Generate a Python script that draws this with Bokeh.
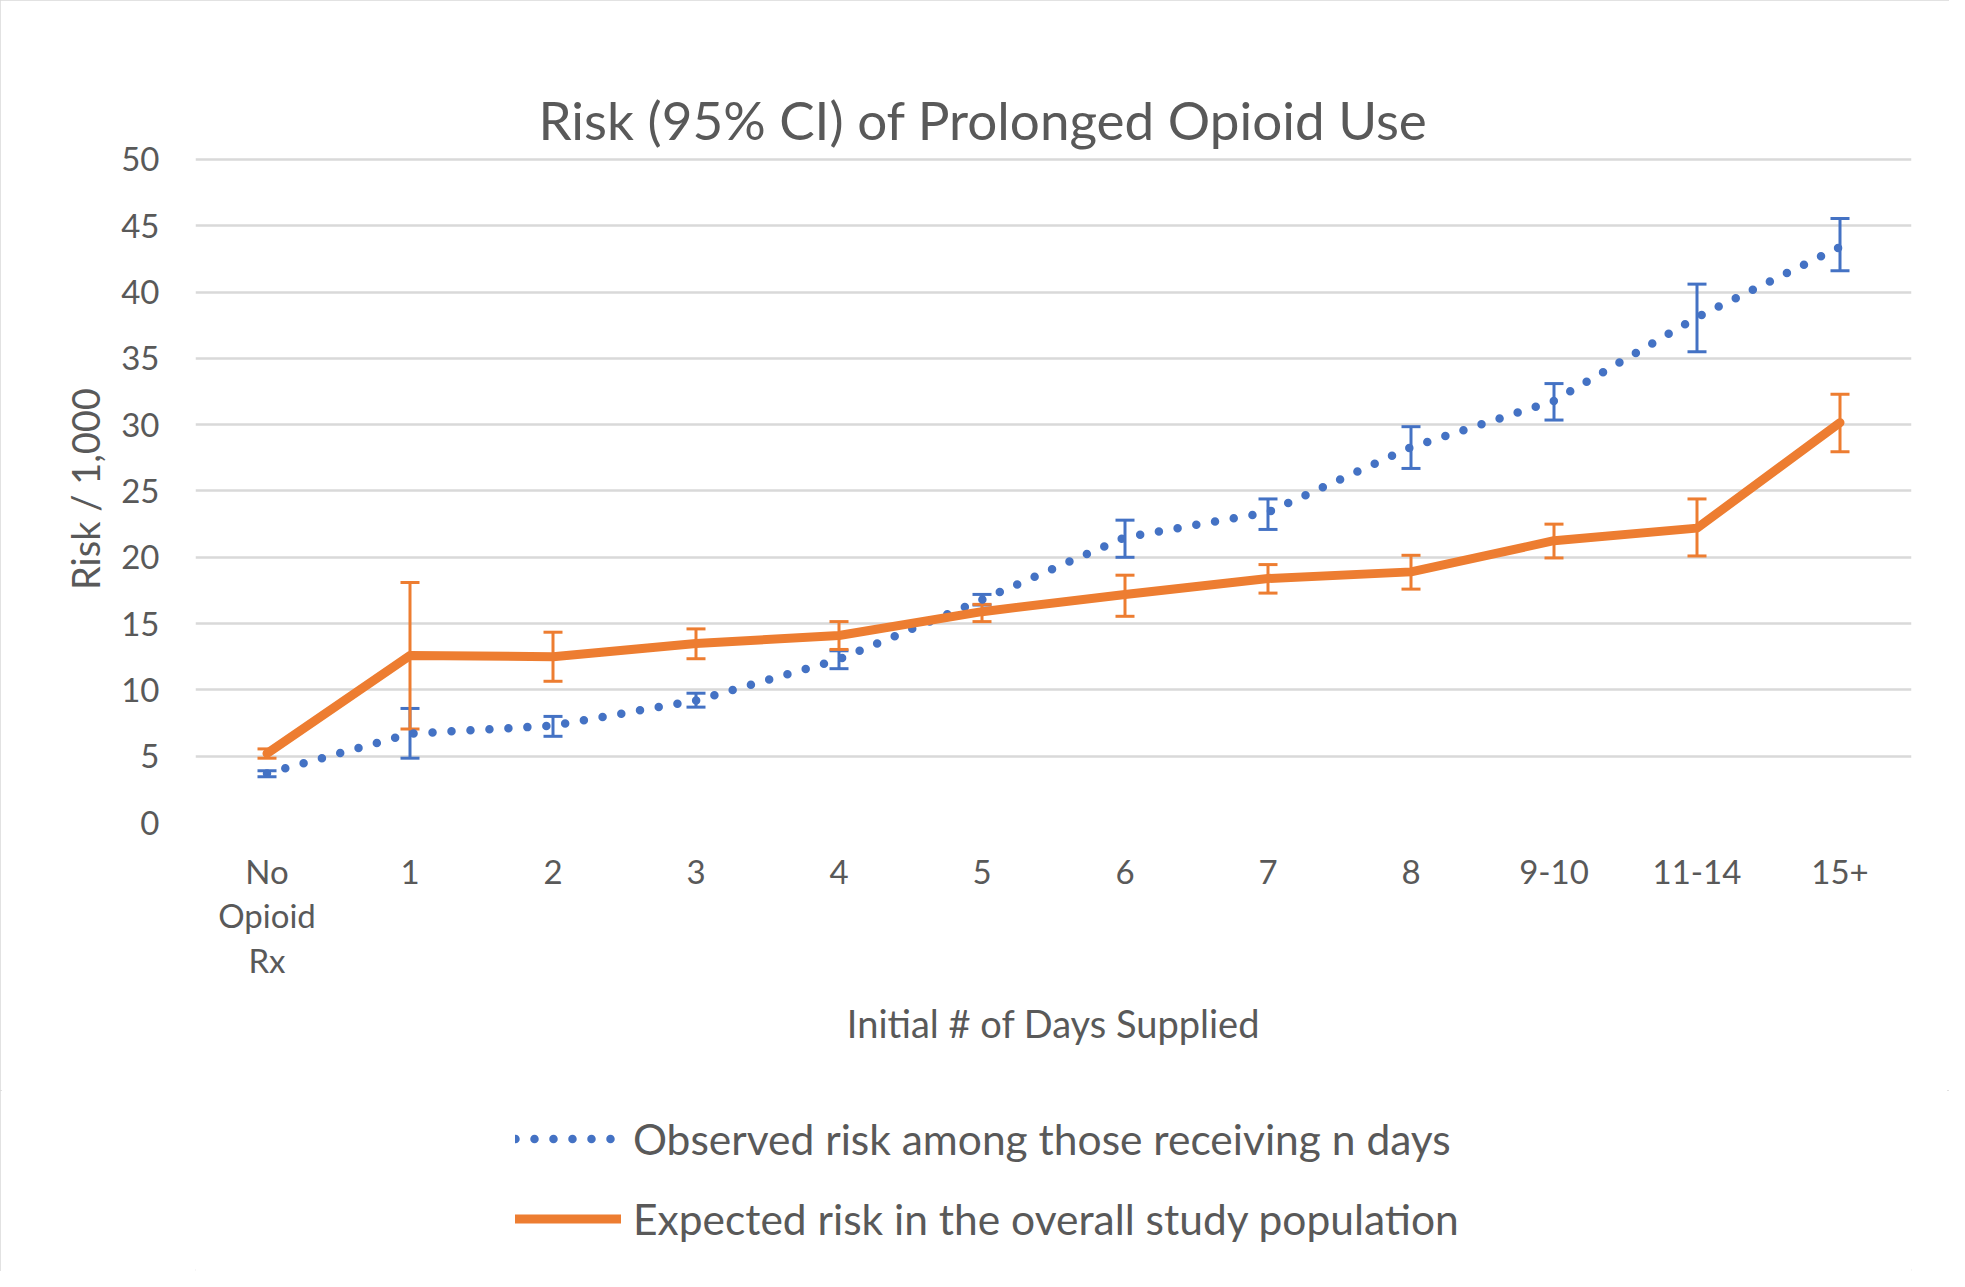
from bokeh.plotting import figure
from bokeh.models import (ColumnDataSource, FactorRange, Range1d, FixedTicker, Whisker,
                          TeeHead, Legend, LegendItem, Title, LinearAxis)
from bokeh.layouts import column
from bokeh.embed import file_html
from bokeh.resources import INLINE

# ---- data ----
categories = ["No\nOpioid\nRx", "1", "2", "3", "4", "5", "6", "7", "8", "9-10", "11-14", "15+"]
observed = [3.7, 6.7, 7.3, 9.2, 12.3, 16.8, 21.5, 23.4, 28.3, 31.8, 38.1, 43.4]
observed_lo = [3.45, 4.85, 6.5, 8.7, 11.6, 16.4, 20.0, 22.1, 26.7, 30.35, 35.5, 41.6]
observed_hi = [3.9, 8.6, 8.0, 9.75, 12.95, 17.2, 22.8, 24.4, 29.85, 33.1, 40.6, 45.55]
expected = [5.2, 12.6, 12.5, 13.5, 14.1, 15.9, 17.2, 18.4, 18.9, 21.25, 22.2, 30.15]
expected_lo = [4.85, 7.05, 10.65, 12.35, 13.05, 15.15, 15.55, 17.3, 17.6, 19.95, 20.1, 27.95]
expected_hi = [5.55, 18.1, 14.35, 14.6, 15.15, 16.45, 18.65, 19.45, 20.15, 22.5, 24.4, 32.3]
y_ticks = [0, 5, 10, 15, 20, 25, 30, 35, 40, 45, 50]

title_text = "Risk (95% CI) of Prolonged Opioid Use"
x_title = "Initial # of Days Supplied"
y_title = "Risk / 1,000"
obs_label = "Observed risk among those receiving n days"
exp_label = "Expected risk in the overall study population"

BLUE = "#4472C4"
ORANGE = "#ED7D31"
TEXT = "#595959"
GRID = "#D9D9D9"
FONT = "Lato"

src = ColumnDataSource(dict(cat=categories, obs=observed, obs_lo=observed_lo, obs_hi=observed_hi,
                            exp=expected, exp_lo=expected_lo, exp_hi=expected_hi))

W = 1949
H_MAIN = 1090
H_LEG = 181

p = figure(x_range=FactorRange(*categories), y_range=Range1d(0, 50.3), title=None,
           width=W, height=H_MAIN, output_backend="svg", toolbar_location=None,
           min_border_left=195, min_border_right=38, min_border_top=155, min_border_bottom=268)
p.x_range.range_padding = 0
p.x_range.factor_padding = 0
p.outline_line_color = None
p.background_fill_color = "white"
p.border_fill_color = "white"

x_axis = p.below[0]
y_axis = p.left[0]

# blank axis (no ticks, no labels) used only as a spacer between the frame and the title
spacer = LinearAxis(ticker=FixedTicker(ticks=[]), axis_line_color=None,
                    major_tick_line_color="white", minor_tick_line_color=None,
                    major_tick_in=0, major_tick_out=47, minor_tick_in=0, minor_tick_out=0,
                    major_label_standoff=0)
p.add_layout(spacer, "above")
p.add_layout(Title(text=title_text, text_font=FONT, text_font_size="53px",
                   text_font_style="normal", text_color=TEXT, align="left",
                   offset=343, standoff=10, vertical_align="bottom"), "above")

p.xgrid.grid_line_color = None
p.ygrid.grid_line_color = GRID
p.ygrid.grid_line_width = 2.5
y_axis.ticker = FixedTicker(ticks=y_ticks)

for ax in (x_axis, y_axis):
    ax.axis_line_color = None
    ax.major_tick_line_color = None
    ax.minor_tick_line_color = None
    ax.major_label_text_font = FONT
    ax.major_label_text_font_size = "33px"
    ax.major_label_text_color = TEXT
    ax.axis_label_text_font = FONT
    ax.axis_label_text_font_size = "38px"
    ax.axis_label_text_font_style = "normal"
    ax.axis_label_text_color = TEXT
y_axis.major_label_standoff = 30
x_axis.major_label_standoff = 22
x_axis.major_label_text_line_height = 1.12
x_axis.axis_label = x_title
y_axis.axis_label = y_title
x_axis.axis_label_standoff = 17
y_axis.axis_label_standoff = 10

obs_style = dict(line_color=BLUE, line_width=8.5, line_dash="0 19", line_cap="round", line_join="round")
exp_style = dict(line_color=ORANGE, line_width=9, line_cap="round", line_join="round")

# observed (blue dotted)
p.line("cat", "obs", source=src, **obs_style)
p.add_layout(Whisker(base="cat", upper="obs_hi", lower="obs_lo", source=src,
                     line_color=BLUE, line_width=3, level="underlay",
                     upper_head=TeeHead(size=19, line_color=BLUE, line_width=3),
                     lower_head=TeeHead(size=19, line_color=BLUE, line_width=3)))
# expected (orange solid)
p.line("cat", "exp", source=src, **exp_style)
p.add_layout(Whisker(base="cat", upper="exp_hi", lower="exp_lo", source=src,
                     line_color=ORANGE, line_width=3, level="underlay",
                     upper_head=TeeHead(size=19, line_color=ORANGE, line_width=3),
                     lower_head=TeeHead(size=19, line_color=ORANGE, line_width=3)))

# legend strip below the chart (its own plot, proxy lines kept outside the visible range)
q = figure(width=W, height=H_LEG, output_backend="svg", toolbar_location=None, title=None,
           x_range=Range1d(0, 1), y_range=Range1d(0, 1),
           x_axis_location=None, y_axis_location=None,
           min_border_left=0, min_border_right=0, min_border_top=0, min_border_bottom=0)
q.grid.grid_line_color = None
q.outline_line_color = None
q.background_fill_color = "white"
q.border_fill_color = "white"
leg_obs = q.line([-5, -4], [-5, -5], **obs_style)
leg_exp = q.line([-5, -4], [-5, -5], **exp_style)
legend = Legend(items=[LegendItem(label=obs_label, renderers=[leg_obs]),
                       LegendItem(label=exp_label, renderers=[leg_exp])],
                location=(320, 27), orientation="vertical",
                label_text_font=FONT, label_text_font_size="42.5px", label_text_color=TEXT,
                glyph_width=106, glyph_height=51, label_height=51, spacing=29,
                padding=0, margin=0, label_standoff=12,
                border_line_color=None, background_fill_alpha=0)
q.add_layout(legend, "center")

layout = column(p, q, spacing=0,
                styles={"outline": "2px solid #D9D9D9", "outline-offset": "-2px"})

open("out.html", "w").write(file_html(layout, INLINE))
